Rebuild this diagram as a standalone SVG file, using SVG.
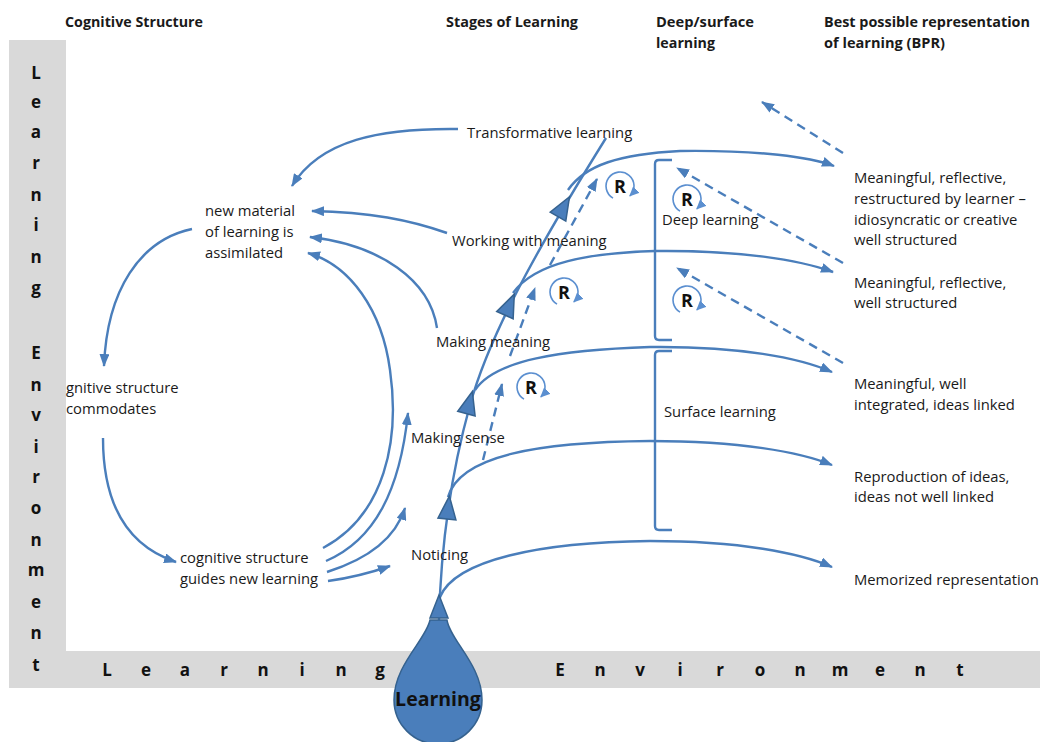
<svg xmlns="http://www.w3.org/2000/svg" width="1045" height="742" viewBox="0 0 1045 742">
  <style>
    .hdr { font-family: "Open Sans", "Liberation Sans", sans-serif; font-weight: bold; font-size: 13.5px; fill: #1a1a1a; }
    .txt { font-family: "Open Sans", "Liberation Sans", sans-serif; font-size: 14.8px; fill: #1a1a1a; }
    .band { font-family: "Open Sans", "Liberation Sans", sans-serif; font-weight: bold; font-size: 17px; fill: #111; text-anchor: middle; }
    .ln { fill: none; stroke: #4a7ebb; stroke-width: 2.4; }
    .dash { fill: none; stroke: #4a7ebb; stroke-width: 2.4; stroke-dasharray: 9 6; }
    .tri { fill: #4a7ebb; stroke: #35628f; stroke-width: 1.5; }
    .rc { fill: none; stroke: #5b8fd0; stroke-width: 1.6; }
    .rl { font-family: "Open Sans", "Liberation Sans", sans-serif; font-weight: bold; font-size: 18px; fill: #111; text-anchor: middle; }
  </style>
  <defs>
    <marker id="ah" markerUnits="userSpaceOnUse" markerWidth="13" markerHeight="10" refX="12" refY="5" orient="auto">
      <path d="M0,0 L13,5 L0,10 Z" fill="#4a7ebb"/>
    </marker>
    <marker id="ahs" markerUnits="userSpaceOnUse" markerWidth="10" markerHeight="9" refX="9" refY="4.5" orient="auto">
      <path d="M0,0 L10,4.5 L0,9 Z" fill="#5b8fd0"/>
    </marker>
    <!-- circular reflection arrow with its letter -->
    <g id="rsym">
      <path class="rc" d="M -7 12.1 A 14 14 0 1 1 9.9 9.9" marker-end="url(#ahs)"/>
      <text class="rl" x="0" y="6.5">R</text>
    </g>
  </defs>

  <rect width="1045" height="742" fill="#ffffff"/>

  <!-- environment frame -->
  <g id="frame">
    <rect x="9" y="40" width="57" height="648" fill="#d9d9d9"/>
    <rect x="9" y="651" width="1031" height="37" fill="#d9d9d9"/>
    <g class="band">
      <text x="36" y="79">L</text><text x="36" y="108">e</text><text x="36" y="138">a</text><text x="36" y="169">r</text>
      <text x="36" y="201">n</text><text x="36" y="231">i</text><text x="36" y="263">n</text><text x="36" y="294">g</text>
      <text x="36" y="359">E</text><text x="36" y="391">n</text><text x="36" y="421">v</text><text x="36" y="453">i</text>
      <text x="36" y="483">r</text><text x="36" y="514">o</text><text x="36" y="546">n</text><text x="36" y="576">m</text>
      <text x="36" y="608">e</text><text x="36" y="639">n</text><text x="36" y="671">t</text>
      <text x="107" y="676">L</text><text x="146" y="676">e</text><text x="185" y="676">a</text><text x="224" y="676">r</text>
      <text x="263" y="676">n</text><text x="302" y="676">i</text><text x="341" y="676">n</text><text x="380" y="676">g</text>
      <text x="560" y="676">E</text><text x="600" y="676">n</text><text x="640" y="676">v</text><text x="680" y="676">i</text>
      <text x="720" y="676">r</text><text x="760" y="676">o</text><text x="800" y="676">n</text><text x="840" y="676">m</text>
      <text x="880" y="676">e</text><text x="920" y="676">n</text><text x="960" y="676">t</text>
    </g>
  </g>

  <!-- column headings -->
  <g id="headings" class="hdr">
    <text x="65" y="27" textLength="138" lengthAdjust="spacingAndGlyphs">Cognitive Structure</text>
    <text x="446" y="27" textLength="132" lengthAdjust="spacingAndGlyphs">Stages of Learning</text>
    <text x="656" y="27" textLength="98" lengthAdjust="spacingAndGlyphs">Deep/surface</text>
    <text x="656" y="48" textLength="59" lengthAdjust="spacingAndGlyphs">learning</text>
    <text x="824" y="27" textLength="206" lengthAdjust="spacingAndGlyphs">Best possible representation</text>
    <text x="824" y="48" textLength="121" lengthAdjust="spacingAndGlyphs">of learning (BPR)</text>
  </g>

  <!-- connectors -->
  <g id="connectors">
    <!-- growth stem -->
    <path class="ln" d="M 439 620 C 441 540, 452 470, 470 405 S 530 260, 606 138"/>
    <!-- branches to representations -->
    <path class="ln" d="M 440 597 C 455 560, 540 542, 650 541 C 740 541, 800 553, 832 567" marker-end="url(#ah)"/>
    <path class="ln" d="M 448 497 C 460 455, 540 442, 650 441 C 740 441, 800 452, 832 465" marker-end="url(#ah)"/>
    <path class="ln" d="M 475 390 C 495 360, 560 350, 650 347 C 740 346, 800 358, 832 372" marker-end="url(#ah)"/>
    <path class="ln" d="M 513 293 C 535 262, 590 253, 655 251 C 740 250, 800 260, 833 272" marker-end="url(#ah)"/>
    <path class="ln" d="M 568 190 C 585 165, 620 154, 680 151 C 760 150, 810 157, 834 166" marker-end="url(#ah)"/>
    <!-- brackets -->
    <path class="ln" d="M 672 160 L 659 160 Q 655 160 655 164 L 655 336 Q 655 340 659 340 L 672 340"/>
    <path class="ln" d="M 672 351 L 659 351 Q 655 351 655 355 L 655 526 Q 655 530 659 530 L 672 530"/>
    <!-- stage to cognitive structure -->
    <path class="ln" d="M 458 129 C 380 128, 320 140, 292 186" marker-end="url(#ah)"/>
    <path class="ln" d="M 447 233 C 410 220, 370 212, 312 211" marker-end="url(#ah)"/>
    <path class="ln" d="M 437 328 C 430 280, 380 245, 310 237" marker-end="url(#ah)"/>
    <path class="ln" d="M 323 548 C 385 515, 400 440, 390 370 C 382 310, 350 265, 308 253" marker-end="url(#ah)"/>
    <path class="ln" d="M 326 561 C 375 540, 400 490, 408 413" marker-end="url(#ah)"/>
    <path class="ln" d="M 327 572 C 365 560, 395 540, 405 508" marker-end="url(#ah)"/>
    <path class="ln" d="M 328 581 C 350 578, 370 573, 390 566" marker-end="url(#ah)"/>
    <!-- cognitive cycle -->
    <path class="ln" d="M 192 229 C 140 240, 107 290, 104 366" marker-end="url(#ah)"/>
    <path class="ln" d="M 103 438 C 103 500, 125 545, 176 562" marker-end="url(#ah)"/>
    <!-- reflection paths -->
    <path class="dash" d="M 483 460 L 502 384" marker-end="url(#ah)"/>
    <path class="dash" d="M 510 356 L 535 288" marker-end="url(#ah)"/>
    <path class="dash" d="M 550 265 L 597 179" marker-end="url(#ah)"/>
    <path class="dash" d="M 843 153 L 762 102" marker-end="url(#ah)"/>
    <path class="dash" d="M 843 263 L 677 168" marker-end="url(#ah)"/>
    <path class="dash" d="M 843 363 L 677 268" marker-end="url(#ah)"/>
  </g>

  <!-- stage markers along the stem -->
  <g id="stem-markers">
    <polygon class="tri" points="0,-13 -9,10 9,10" transform="translate(439,608)"/>
    <polygon class="tri" points="0,-13 -9,10 9,10" transform="translate(448,509) rotate(6)"/>
    <polygon class="tri" points="0,-13 -9,10 9,10" transform="translate(469,404) rotate(15)"/>
    <polygon class="tri" points="0,-13 -9,10 9,10" transform="translate(509,306) rotate(24)"/>
    <polygon class="tri" points="0,-13 -9,10 9,10" transform="translate(563,208) rotate(30)"/>
  </g>

  <!-- learning drop -->
  <g id="learning">
    <path d="M 430 620 L 447 620 C 450 640, 482 665, 482 700 A 44 44 0 0 1 394 700 C 394 665, 426 640, 430 620 Z" fill="#4a7ebb" stroke="#35628f" stroke-width="1.5"/>
    <text x="438" y="706" text-anchor="middle" font-family="Open Sans, Liberation Sans, sans-serif" font-weight="bold" font-size="19.5" fill="#111">Learning</text>
  </g>

  <!-- reflection symbols -->
  <g id="reflect">
    <use href="#rsym" transform="translate(620,186)"/>
    <use href="#rsym" transform="translate(564,292)"/>
    <use href="#rsym" transform="translate(531,387)"/>
    <use href="#rsym" transform="translate(687,199)"/>
    <use href="#rsym" transform="translate(687,300)"/>
  </g>

  <!-- stages -->
  <g id="stages" class="txt">
    <text id="s-transformative" x="467" y="138">Transformative learning</text>
    <text id="s-working" x="452" y="246">Working with meaning</text>
    <text id="s-making-meaning" x="436" y="347">Making meaning</text>
    <text id="s-making-sense" x="411" y="443">Making sense</text>
    <text id="s-noticing" x="411" y="560">Noticing</text>
  </g>

  <!-- cognitive structure -->
  <g id="cognitive" class="txt">
    <text x="205" y="216">new material</text>
    <text x="205" y="237">of learning is</text>
    <text x="205" y="258">assimilated</text>
    <text x="66" y="393">gnitive structure</text>
    <text x="66" y="414">commodates</text>
    <text x="180" y="563">cognitive structure</text>
    <text x="180" y="584">guides new learning</text>
  </g>

  <!-- deep / surface -->
  <g id="depth" class="txt">
    <text x="662" y="225">Deep learning</text>
    <text x="664" y="417">Surface learning</text>
  </g>

  <!-- representations -->
  <g id="bpr" class="txt">
    <text x="854" y="183">Meaningful, reflective,</text>
    <text x="854" y="204">restructured by learner –</text>
    <text x="854" y="225">idiosyncratic or creative</text>
    <text x="854" y="245">well structured</text>
    <text x="854" y="288">Meaningful, reflective,</text>
    <text x="854" y="308">well structured</text>
    <text x="854" y="389">Meaningful, well</text>
    <text x="854" y="410">integrated, ideas linked</text>
    <text x="854" y="482">Reproduction of ideas,</text>
    <text x="854" y="502">ideas not well linked</text>
    <text x="854" y="585">Memorized representation</text>
  </g>
</svg>
